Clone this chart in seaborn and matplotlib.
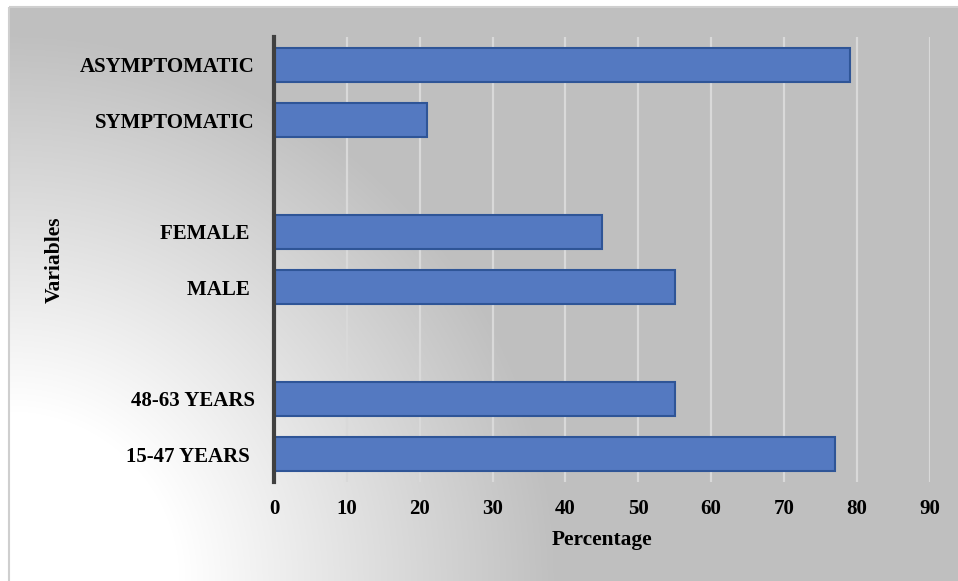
import numpy as np
import pandas as pd
import matplotlib
matplotlib.use("Agg")
import matplotlib.pyplot as plt
from matplotlib.patches import Rectangle
import seaborn as sns

# Category order from top to bottom; blank entries separate the groups
categories = ["ASYMPTOMATIC", "SYMPTOMATIC", " ", "FEMALE ", "MALE ", "  ",
              "48-63 YEARS", "15-47 YEARS "]
labels = ["ASYMPTOMATIC", "SYMPTOMATIC", "FEMALE ", "MALE ",
          "48-63 YEARS", "15-47 YEARS "]
percentages = [79, 21, 45, 55, 55, 77]
x_ticks = [0, 10, 20, 30, 40, 50, 60, 70, 80, 90]

df = pd.DataFrame({"Variables": labels, "Percentage": percentages})

sns.set_theme(style="white")
plt.rcParams["font.family"] = ["Liberation Serif", "DejaVu Serif"]
plt.rcParams["font.weight"] = "bold"

W, H = 958, 581
fig = plt.figure(figsize=(W / 100, H / 100), dpi=100)
fig.patch.set_facecolor("white")

# Radial grey gradient background, lightest at the lower-left corner
bg = fig.add_axes([0, 0, 1, 1], zorder=-10)
yy, xx = np.mgrid[0:H, 0:W]
r = np.hypot(xx - 9, yy - 581)
t = np.clip((r - 170) / 380, 0, 1)
val = (255 - (255 - 191) * t) / 255.0
img = np.dstack([val, val, val])
img[:7, :, :] = 1.0
img[:, :9, :] = 1.0
bg.imshow(img, extent=[0, W, H, 0], aspect="auto", interpolation="bilinear")
bg.set_xlim(0, W)
bg.set_ylim(H, 0)
bg.axis("off")
bg.add_patch(Rectangle((9, 7), W + 10, H + 10, fill=False,
                       edgecolor="#cfcfcf", linewidth=1.5))

# Plot area
x0, x1, y0, y1 = 274, 929.7, 37, 482
ax = fig.add_axes([x0 / W, 1 - y1 / H, (x1 - x0) / W, (y1 - y0) / H])
ax.set_facecolor("none")

sns.barplot(data=df, x="Percentage", y="Variables", order=categories,
            orient="h", width=0.61, color="#5479c1", saturation=1,
            edgecolor="#2f5597", linewidth=1.5, ax=ax, zorder=3)

ax.set_xlim(0, 90)
ax.set_xticks(x_ticks)
ax.set_xticklabels([str(v) for v in x_ticks])
ax.grid(axis="x", color="#d9d9d9", linewidth=1.6, zorder=0)
ax.grid(axis="y", visible=False)
ax.set_axisbelow(True)

for s in ["top", "right", "bottom"]:
    ax.spines[s].set_visible(False)
ax.spines["left"].set_color("#404040")
ax.spines["left"].set_linewidth(3)
ax.spines["left"].set_zorder(5)

ax.tick_params(axis="both", length=0, labelsize=15, colors="black")
ax.tick_params(axis="y", pad=14)
ax.tick_params(axis="x", pad=12)
for lab in ax.get_xticklabels() + ax.get_yticklabels():
    lab.set_fontweight("bold")

ax.set_xlabel("Percentage", fontsize=15.4, fontweight="bold", color="black")
ax.set_ylabel("Variables", fontsize=15.5, fontweight="bold", color="black")
ax.xaxis.label.set_va("center")
ax.yaxis.label.set_va("center")
ax.xaxis.set_label_coords(0.5, (y1 - 540) / (y1 - y0))
ax.yaxis.set_label_coords((55 - x0) / (x1 - x0), 0.5)

fig.savefig("out.png", dpi=100)
